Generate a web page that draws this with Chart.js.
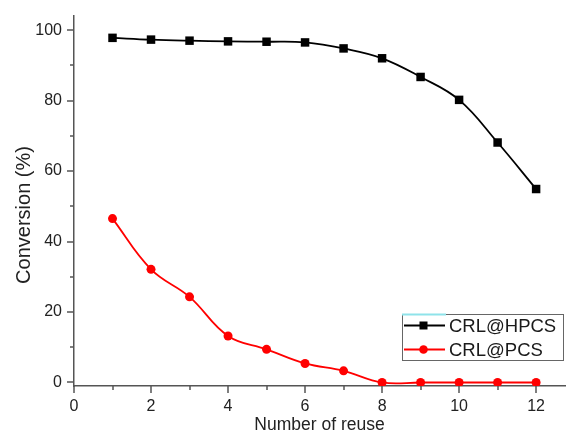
<!DOCTYPE html>
<html>
<head>
<meta charset="utf-8">
<script src="https://cdn.jsdelivr.net/npm/chart.js@4/dist/chart.umd.min.js"></script>
<style>
  html, body { margin: 0; padding: 0; background: #fff; }
  #wrap { width: 572px; height: 436px; }
</style>
</head>
<body>
<div id="wrap"><canvas id="c" width="572" height="436"></canvas></div>
<script>
// ---- data ----
const reuseCycles = [1, 2, 3, 4, 5, 6, 7, 8, 9, 10, 11, 12];
const crlHpcs = [97.8, 97.3, 97.0, 96.8, 96.7, 96.5, 94.8, 92.0, 86.7, 80.2, 68.1, 54.9];
const crlPcs = [46.5, 32.1, 24.3, 13.2, 9.4, 5.4, 3.3, 0, 0, 0, 0, 0];
const xMajorTicks = [0, 2, 4, 6, 8, 10, 12];
const xMinorTicks = [1, 3, 5, 7, 9, 11];
const yMajorTicks = [0, 20, 40, 60, 80, 100];
const yMinorTicks = [10, 30, 50, 70, 90];
const seriesNames = ['CRL@HPCS', 'CRL@PCS'];
const xTitle = 'Number of reuse';
const yTitle = 'Conversion (%)';

const FONT = "'Liberation Sans', Arial, sans-serif";
const AXIS_COLOR = '#555';

const toXY = (ys) => reuseCycles.map((x, i) => ({ x: x, y: ys[i] }));

const tickPlugin = {
  id: 'tickMarks',
  afterDraw(chart) {
    const ctx = chart.ctx;
    const xs = chart.scales.x, ys = chart.scales.y;
    const xAxisY = chart.chartArea.bottom;
    const yAxisX = chart.chartArea.left;
    ctx.save();
    ctx.strokeStyle = AXIS_COLOR;
    ctx.lineWidth = 1.5;
    ctx.beginPath();
    xMajorTicks.forEach(v => { const p = Math.round(xs.getPixelForValue(v)); ctx.moveTo(p, xAxisY); ctx.lineTo(p, xAxisY + 7); });
    xMinorTicks.forEach(v => { const p = Math.round(xs.getPixelForValue(v)); ctx.moveTo(p, xAxisY); ctx.lineTo(p, xAxisY + 4); });
    yMajorTicks.forEach(v => { const p = Math.round(ys.getPixelForValue(v)); ctx.moveTo(yAxisX, p); ctx.lineTo(yAxisX - 7, p); });
    yMinorTicks.forEach(v => { const p = Math.round(ys.getPixelForValue(v)); ctx.moveTo(yAxisX, p); ctx.lineTo(yAxisX - 4, p); });
    ctx.stroke();

    // y axis title
    ctx.save();
    ctx.translate(24, 215);
    ctx.rotate(-Math.PI / 2);
    ctx.fillStyle = '#222';
    ctx.font = '20px ' + FONT;
    ctx.textAlign = 'center';
    ctx.textBaseline = 'middle';
    ctx.fillText(yTitle, 0, 0);
    ctx.restore();

    // legend box
    const bx = 402, by = 314, bw = 161, bh = 46;
    ctx.strokeStyle = '#666';
    ctx.lineWidth = 1;
    ctx.strokeRect(bx + 0.5, by + 0.5, bw, bh);
    ctx.strokeStyle = '#8fe3ea';
    ctx.lineWidth = 2;
    ctx.beginPath(); ctx.moveTo(bx, by + 0.5); ctx.lineTo(bx + 44, by + 0.5); ctx.stroke();

    const rows = [
      { name: seriesNames[0], color: '#000', y: 325.5, marker: 'rect' },
      { name: seriesNames[1], color: '#ff0000', y: 349.5, marker: 'circle' }
    ];
    rows.forEach(r => {
      ctx.strokeStyle = r.color;
      ctx.lineWidth = 1.8;
      ctx.beginPath(); ctx.moveTo(404, r.y); ctx.lineTo(445, r.y); ctx.stroke();
      ctx.fillStyle = r.color;
      if (r.marker === 'rect') {
        ctx.fillRect(419.5, r.y - 4, 8, 8);
      } else {
        ctx.beginPath(); ctx.arc(423.5, r.y, 4.3, 0, Math.PI * 2); ctx.fill();
      }
      ctx.fillStyle = '#1a1a1a';
      ctx.font = '18.5px ' + FONT;
      ctx.textBaseline = 'middle';
      ctx.textAlign = 'left';
      ctx.fillText(r.name, 449, r.y + 1);
    });
    ctx.restore();
  }
};

new Chart(document.getElementById('c'), {
  type: 'line',
  data: {
    datasets: [
      {
        label: seriesNames[0],
        data: toXY(crlHpcs),
        borderColor: '#000',
        backgroundColor: '#000',
        borderWidth: 1.8,
        pointStyle: 'rect',
        pointRadius: 6,
        pointBorderWidth: 0,
        tension: 0.4,
        fill: false
      },
      {
        label: seriesNames[1],
        data: toXY(crlPcs),
        borderColor: '#ff0000',
        backgroundColor: '#ff0000',
        borderWidth: 1.8,
        pointStyle: 'circle',
        pointRadius: 4.5,
        pointBorderWidth: 0,
        tension: 0.4,
        fill: false
      }
    ]
  },
  options: {
    responsive: false,
    animation: false,
    devicePixelRatio: 1,
    layout: { padding: { left: 0, right: 7, top: 16, bottom: 0 } },
    plugins: { legend: { display: false }, tooltip: { enabled: false } },
    scales: {
      x: {
        type: 'linear',
        min: 0,
        max: 12.75,
        afterBuildTicks: (s) => { s.ticks = xMajorTicks.map(v => ({ value: v })); },
        afterFit: (s) => { s.height = 50; },
        grid: { display: false, drawTicks: true, tickLength: 7 },
        border: { display: true, color: AXIS_COLOR, width: 1.5 },
        ticks: { padding: 4, color: '#222', font: { family: FONT, size: 16 }, maxRotation: 0 },
        title: { display: true, text: xTitle, color: '#222', font: { family: FONT, size: 17.5 }, padding: { top: 0, bottom: 0 } }
      },
      y: {
        type: 'linear',
        min: -1,
        max: 104,
        afterBuildTicks: (s) => { s.ticks = yMajorTicks.map(v => ({ value: v })); },
        afterFit: (s) => { s.width = 74; },
        grid: { display: false, drawTicks: true, tickLength: 7 },
        border: { display: true, color: AXIS_COLOR, width: 1.5 },
        ticks: { padding: 5, color: '#222', font: { family: FONT, size: 16 } },
        title: { display: false }
      }
    }
  },
  plugins: [tickPlugin]
});
</script>
</body>
</html>
